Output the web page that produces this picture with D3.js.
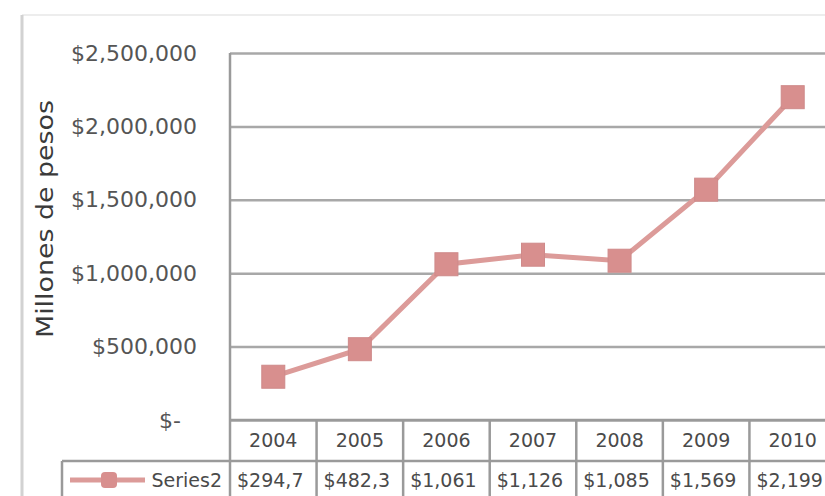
<!doctype HTML>
<html>
<head>
    <style>
        body { margin: 0; background: #fff; }
        text { font-family: "DejaVu Sans", sans-serif; }
    </style>
    <script src="https://d3js.org/d3.v7.min.js"></script>
</head>
<body>
<script>
    // data
    var years = ["2004", "2005", "2006", "2007", "2008", "2009", "2010"];
    var values = [294700, 482300, 1061000, 1126000, 1085000, 1569000, 2199000];
    // table cells as they show in the picture (cut by the column width)
    var cellLabels = ["$294,7", "$482,3", "$1,061", "$1,126", "$1,085", "$1,569", "$2,199"];
    var yTicks = [0, 500000, 1000000, 1500000, 2000000, 2500000];
    var seriesName = "Series2";
    var yTitle = "Millones de pesos";

    var canvasWidth = 825;
    var canvasHeight = 496;

    var svg = d3.select("body").append("svg")
        .attr("width", canvasWidth)
        .attr("height", canvasHeight);

    var plotLeft = 230, plotRight = 836, plotTop = 53, plotBottom = 420;
    var rowBottom = 461;

    var xScale = d3.scaleBand().domain(years).range([plotLeft, plotRight]);
    var yScale = d3.scaleLinear().domain([0, 2500000]).range([plotBottom, plotTop]);

    // outer chart border (left edge shows, top is faint)
    svg.append("line")
        .attr("x1", 22).attr("x2", canvasWidth)
        .attr("y1", 15).attr("y2", 15)
        .attr("stroke", "#ededed").attr("stroke-width", 2);
    svg.append("line")
        .attr("x1", 22).attr("x2", 22)
        .attr("y1", 15).attr("y2", canvasHeight)
        .attr("stroke", "#d2d2d2").attr("stroke-width", 3);

    // gridlines
    svg.append("g")
        .attr("transform", "translate(" + plotLeft + ",0)")
        .call(d3.axisLeft(yScale).tickValues(yTicks).tickSize(-(canvasWidth - plotLeft + 20)).tickFormat(""))
        .call(g => g.select(".domain").remove())
        .selectAll("line")
        .attr("stroke", "#a8a8a8")
        .attr("stroke-width", 2.5);

    // y axis labels
    var fmt = d3.format("$,");
    var yAxis = svg.append("g")
        .attr("transform", "translate(" + plotLeft + ",0)")
        .call(d3.axisLeft(yScale).tickValues(yTicks).tickSize(0).tickPadding(33)
            .tickFormat(function(d) { return d === 0 ? "$-" : fmt(d); }));
    yAxis.select(".domain").remove();
    yAxis.selectAll("text")
        .attr("font-family", "DejaVu Sans")
        .attr("font-size", "22px")
        .attr("fill", "#555")
        .attr("dx", function(d) { return d === 0 ? -16 : 0; });

    // y axis title
    svg.append("text")
        .attr("transform", "translate(53, 219) rotate(-90)")
        .attr("text-anchor", "middle")
        .attr("font-size", "23px")
        .attr("fill", "#3a3a3a")
        .attr("textLength", 238)
        .attr("lengthAdjust", "spacingAndGlyphs")
        .text(yTitle);

    // data table lines
    var tableColor = "#9a9a9a";
    svg.append("line")
        .attr("x1", plotLeft).attr("x2", canvasWidth)
        .attr("y1", plotBottom).attr("y2", plotBottom)
        .attr("stroke", tableColor).attr("stroke-width", 2.5);
    svg.append("line")
        .attr("x1", 62).attr("x2", canvasWidth)
        .attr("y1", rowBottom).attr("y2", rowBottom)
        .attr("stroke", tableColor).attr("stroke-width", 2.5);
    svg.append("line")
        .attr("x1", 62).attr("x2", 62)
        .attr("y1", rowBottom).attr("y2", canvasHeight)
        .attr("stroke", tableColor).attr("stroke-width", 2.5);
    svg.append("line")
        .attr("x1", plotLeft).attr("x2", plotLeft)
        .attr("y1", plotTop).attr("y2", canvasHeight)
        .attr("stroke", tableColor).attr("stroke-width", 2.5);
    svg.selectAll(".colLine")
        .data(years.slice(1))
        .enter().append("line")
        .attr("class", "colLine")
        .attr("x1", d => xScale(d)).attr("x2", d => xScale(d))
        .attr("y1", plotBottom).attr("y2", canvasHeight)
        .attr("stroke", tableColor).attr("stroke-width", 2.5);

    // year labels
    svg.selectAll(".yearLabel")
        .data(years)
        .enter().append("text")
        .attr("class", "yearLabel")
        .attr("x", d => xScale(d) + xScale.bandwidth() / 2)
        .attr("y", 447)
        .attr("text-anchor", "middle")
        .attr("font-size", "19px")
        .attr("fill", "#4a4a4a")
        .text(d => d);

    // value cells
    svg.selectAll(".valueLabel")
        .data(cellLabels)
        .enter().append("text")
        .attr("class", "valueLabel")
        .attr("x", (d, i) => xScale(years[i]) + 7)
        .attr("y", 487)
        .attr("font-size", "19px")
        .attr("fill", "#4a4a4a")
        .text(d => d);

    // legend key in table
    var lineColor = "#dc9b99";
    var markColor = "#d88f8e";
    svg.append("line")
        .attr("x1", 70).attr("x2", 145)
        .attr("y1", 480).attr("y2", 480)
        .attr("stroke", lineColor).attr("stroke-width", 5);
    svg.append("rect")
        .attr("x", 101).attr("y", 472)
        .attr("width", 16).attr("height", 16)
        .attr("rx", 4)
        .attr("fill", markColor);
    svg.append("text")
        .attr("x", 222).attr("y", 487)
        .attr("text-anchor", "end")
        .attr("font-size", "19px")
        .attr("fill", "#4a4a4a")
        .text(seriesName);

    // series line
    var line = d3.line()
        .x((d, i) => xScale(years[i]) + xScale.bandwidth() / 2)
        .y(d => yScale(d));
    svg.append("path")
        .datum(values)
        .attr("d", line)
        .attr("fill", "none")
        .attr("stroke", lineColor)
        .attr("stroke-width", 5);

    var ms = 23;
    svg.selectAll(".marker")
        .data(values)
        .enter().append("rect")
        .attr("class", "marker")
        .attr("x", (d, i) => xScale(years[i]) + xScale.bandwidth() / 2 - ms / 2)
        .attr("y", d => yScale(d) - ms / 2)
        .attr("width", ms).attr("height", ms)
        .attr("fill", markColor)
        .attr("stroke", "#cf8a8a")
        .attr("stroke-width", 1);
</script>
</body>
</html>
